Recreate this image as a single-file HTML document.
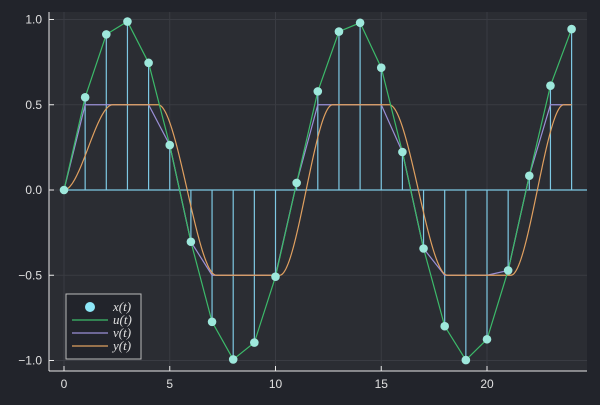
<!DOCTYPE html>
<html><head><meta charset="utf-8"><style>body{margin:0;background:#22242b}</style></head><body>
<svg id="s" width="600" height="400" xmlns="http://www.w3.org/2000/svg" font-family="Liberation Sans, DejaVu Sans, sans-serif">
<rect width="600" height="400" fill="#22242b"/>
<rect x="49" y="12" width="538" height="359" fill="#2b2d33"/>
<g id="grid" stroke="#3a3c43" stroke-width="1"></g>
<line x1="49" y1="12" x2="49" y2="371" stroke="#e8e8e8"/>
<line x1="49" y1="371" x2="587" y2="371" stroke="#e8e8e8"/>
<g id="ticks" fill="#e0e0e0" font-size="12"></g>
<g id="data"></g>
<rect x="66" y="294" width="75" height="65" fill="#22242b" stroke="#bbbbbb"/>
<circle cx="90" cy="307" r="5" fill="#8ee8f8"/>
<line x1="72" y1="320" x2="108" y2="320" stroke="#3cba6a" stroke-width="1.2"/>
<line x1="72" y1="333" x2="108" y2="333" stroke="#9a8fd6" stroke-width="1.2"/>
<line x1="72" y1="346" x2="108" y2="346" stroke="#e0a060" stroke-width="1.2"/>
<g fill="#e0e0e0" font-size="13" font-family="Liberation Serif, serif" font-style="italic">
<text x="113" y="311">x(t)</text><text x="113" y="324">u(t)</text><text x="113" y="337">v(t)</text><text x="113" y="350">y(t)</text></g>
</svg>
<script>
const X=t=>64+t*21.15, Y=v=>190-v*170.5;
const ns="http://www.w3.org/2000/svg";
function el(p,tag,a,txt){const e=document.createElementNS(ns,tag);for(const k in a)e.setAttribute(k,a[k]);if(txt!==undefined)e.textContent=txt;document.getElementById(p).appendChild(e);}
for(const t of [0,5,10,15,20]){el('grid','line',{x1:X(t),y1:12,x2:X(t),y2:371});el('ticks','line',{x1:X(t),y1:371,x2:X(t),y2:366,stroke:'#e8e8e8'});el('ticks','text',{x:X(t),y:388,'text-anchor':'middle'},String(t));}
for(const v of [-1,-0.5,0,0.5,1]){el('grid','line',{x1:49,y1:Y(v),x2:587,y2:Y(v)});el('ticks','line',{x1:49,y1:Y(v),x2:54,y2:Y(v),stroke:'#e8e8e8'});el('ticks','text',{x:42,y:Y(v)+4,'text-anchor':'end'},v.toFixed(1).replace('-','−'));}
const f=t=>Math.sin(0.575*t);
el('data','line',{x1:X(0),y1:Y(0),x2:587,y2:Y(0),stroke:'#7ec8e3','stroke-width':1.2});
for(let t=0;t<=24;t++)el('data','line',{x1:X(t),y1:Y(0),x2:X(t),y2:Y(f(t)),stroke:'#7ec8e3','stroke-width':1.2});
const tr=[[0,2.3,0,0.5],[4.45,7.2,0.5,-0.5],[10.2,12.7,-0.5,0.5],[15.38,18.13,0.5,-0.5],[21.13,23.63,-0.5,0.5]];
function yo(t){let v=0;for(const [a,b,p,q] of tr){if(t<a)return v;if(t<=b){let s=(t-a)/(b-a);s=s*s*(3-2*s);return p+(q-p)*s;}v=q;}return v;}
let pu='',pv='',py='';
for(let t=0;t<=24;t++){pu+=(t?'L':'M')+X(t)+','+Y(f(t));pv+=(t?'L':'M')+X(t)+','+Y(Math.max(-0.5,Math.min(0.5,f(t))));}
for(let t=0;t<=24.001;t+=0.05){py+=(t?'L':'M')+X(t)+','+Y(yo(t));}
el('data','path',{d:pv,fill:'none',stroke:'#9a8fd6','stroke-width':1.2});
el('data','path',{d:py,fill:'none',stroke:'#e0a060','stroke-width':1.2});
el('data','path',{d:pu,fill:'none',stroke:'#3cba6a','stroke-width':1.2});
for(let t=0;t<=24;t++)el('data','circle',{cx:X(t),cy:Y(f(t)),r:4.3,fill:'#9ee8dc'});
</script>
</body></html>
